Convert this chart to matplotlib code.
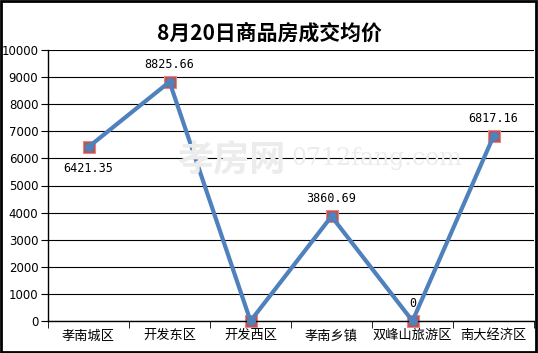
import numpy as np
import matplotlib
matplotlib.use('Agg')
import matplotlib.pyplot as plt

plt.rcParams['font.family'] = ['Noto Sans CJK SC', 'DejaVu Sans']

# ── Data ──────────────────────────────────────────────────────────────────────
districts = ['孝南城区', '开发东区', '开发西区', '孝南乡镇', '双峰山旅游区', '南大经济区']
prices = [6421.35, 8825.66, 0, 3860.69, 0, 6817.16]
label_text = ['6421.35', '8825.66', '', '3860.69', '0', '6817.16']
yticks = list(range(0, 10001, 1000))

col_line = '#4f81bd'
col_mark = '#c0504d'

fig = plt.figure(figsize=(5.38, 3.53), dpi=100)
ax = fig.add_axes([48 / 538, 1 - 321 / 353, 486 / 538, 271 / 353])

x = np.arange(len(districts))

ax.plot(x, prices, color=col_line, linewidth=3, zorder=3, solid_capstyle='round')
ax.scatter(x, prices, marker='s', s=80, color=col_mark, edgecolors='#e08a88',
           linewidths=0.8, zorder=2, clip_on=False)
ax.scatter(x, prices, marker='o', s=30, color=col_line, zorder=4, clip_on=False)

# value labels
for i, (v, t) in enumerate(zip(prices, label_text)):
    if not t:
        continue
    if i == 0:
        ax.annotate(t, (i, v), xytext=(0, -11), textcoords='offset points',
                    ha='center', va='top', fontsize=8.5, family='DejaVu Sans Mono')
    else:
        ax.annotate(t, (i, v), xytext=(0, 8), textcoords='offset points',
                    ha='center', va='bottom', fontsize=8.5, family='DejaVu Sans Mono')

ax.set_xlim(-0.5, len(districts) - 0.5)
ax.set_ylim(0, 10000)
ax.set_yticks(yticks)
ax.set_yticklabels([str(t) for t in yticks], fontsize=8.5, family='DejaVu Sans')
ax.set_xticks(x)
ax.set_xticklabels(districts, fontsize=9.5)
ax.set_xticks(np.arange(len(districts) + 1) - 0.5, minor=True)
ax.tick_params(axis='x', which='major', length=0, pad=6)
ax.tick_params(axis='x', which='minor', length=5, direction='out', color='black')
ax.tick_params(axis='y', length=5, direction='out', pad=2)

ax.grid(axis='y', color='black', linewidth=0.8)
ax.set_axisbelow(True)
for s in ['top', 'right']:
    ax.spines[s].set_visible(False)
ax.spines['left'].set_linewidth(1)
ax.spines['bottom'].set_linewidth(1)

# watermark
fig.text(0.43, 0.545, '孝房网', fontsize=26, color='#ececec', ha='center', va='center',
         fontweight='bold', zorder=0)
fig.text(0.70, 0.55, '0712fang.com', fontsize=17, color='#ececec', ha='center',
         va='center', family='DejaVu Serif', zorder=0)

fig.suptitle('8月20日商品房成交均价', x=0.5, y=0.935, fontsize=15, fontweight='bold')

# outer border
fig.patches.append(plt.Rectangle((0.001, 0.003), 0.996, 0.995, transform=fig.transFigure,
                                 fill=False, edgecolor='black', linewidth=2))

fig.savefig('out.png', dpi=100)
